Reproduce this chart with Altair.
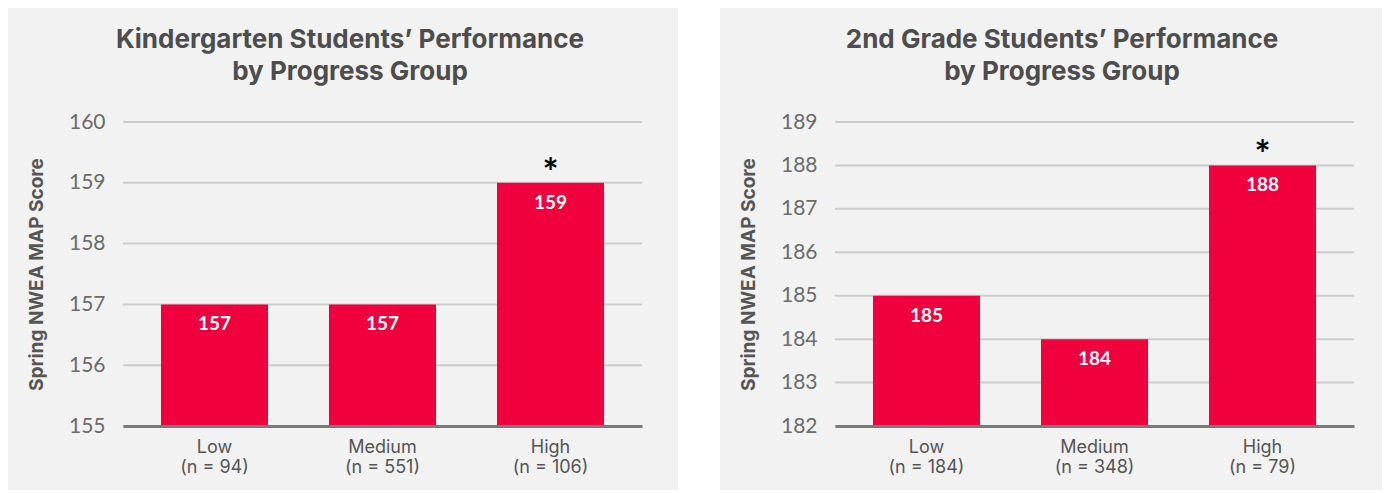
import altair as alt
import pandas as pd

groups = ["Low", "Medium", "High"]

k_title = ["Kindergarten Students\u2019 Performance", "by Progress Group"]
k_n = [94, 551, 106]
k_scores = [157, 157, 159]
k_sig = ["", "", "*"]
k_domain = [155, 160]
k_ticks = [155, 156, 157, 158, 159, 160]

g2_title = ["2nd Grade Students\u2019 Performance", "by Progress Group"]
g2_n = [184, 348, 79]
g2_scores = [185, 184, 188]
g2_sig = ["", "", "*"]
g2_domain = [182, 189]
g2_ticks = [182, 183, 184, 185, 186, 187, 188, 189]

FONT = "Lato"
TFONT = "Inter"
W, H = 519, 304
RED = "#f0003c"
PANEL = "#f2f2f2"


def panel(title, ns, scores, sig, domain, ticks, right_pad):
    df = pd.DataFrame({
        "label": [f"{g}|(n = {n})" for g, n in zip(groups, ns)],
        "score": scores,
        "sig": sig,
        "base": [domain[0]] * len(groups),
    })
    grid_df = pd.DataFrame({"score": ticks})
    xenc = alt.X(
        "label:N", sort=None, title=None,
        scale=alt.Scale(paddingInner=0.363, paddingOuter=0.226),
        axis=alt.Axis(labelExpr="split(datum.label, '|')", labelAngle=0,
                      labelFontSize=18, labelColor="#555555", labelFont=TFONT,
                      labelPadding=12, labelLineHeight=20, ticks=False,
                      domainColor="#7a7a7a", domainWidth=3, zindex=1),
    )
    yscale = alt.Scale(domain=domain, nice=False, zero=False)
    yaxis = alt.Axis(values=ticks, title="Spring NWEA MAP Score",
                     titleFontSize=19, titleFontWeight="bold",
                     titleColor="#555555", titleFont=TFONT,
                     titlePadding=22, labelFontSize=21,
                     labelColor="#6b6b6b", labelFont=FONT,
                     labelPadding=18, domain=False, ticks=False,
                     grid=False, zindex=1)
    yenc = alt.Y("score:Q", scale=yscale, axis=yaxis)

    bg = alt.Chart(alt.Data(values=[{}])).mark_rect(color=PANEL).encode(
        x=alt.value(-115), x2=alt.value(W + right_pad),
        y=alt.value(-114), y2=alt.value(H + 64),
    )
    grid = alt.Chart(grid_df).mark_rule(color="#cccccc", strokeWidth=2).encode(
        y=yenc, x=alt.value(0), x2=alt.value(W))
    base = alt.Chart(df).encode(x=xenc)
    bars = base.mark_bar(color=RED).encode(y=yenc, y2="base:Q")
    vals = base.mark_text(color="white", fontSize=19, fontWeight="bold",
                          font=FONT, baseline="middle", dy=20).encode(
        y=yenc, text="score:Q")
    stars = base.mark_text(color="black", fontSize=38, fontWeight="bold",
                           font=FONT, baseline="middle", dy=-8).encode(
        y=yenc, text="sig:N")
    ttl = alt.Chart(alt.Data(values=[{}])).mark_text(
        fontSize=26, font=TFONT, fontWeight="bold", color="#4d4d4d",
        align="center", baseline="middle", lineHeight=32).encode(
        x=alt.value(227), y=alt.value(-82), text=alt.value(title))
    return alt.layer(bg, grid, bars, vals, stars, ttl).properties(
        width=W, height=H)


left = panel(k_title, k_n, k_scores, k_sig, k_domain, k_ticks, 36)
right = panel(g2_title, g2_n, g2_scores, g2_sig, g2_domain, g2_ticks, 28)

chart = alt.hconcat(left, right, spacing=42).properties(
    padding=0, background="white"
).configure_view(stroke=None)

chart.save("out.html", embed_options={"renderer": "svg", "actions": False})
